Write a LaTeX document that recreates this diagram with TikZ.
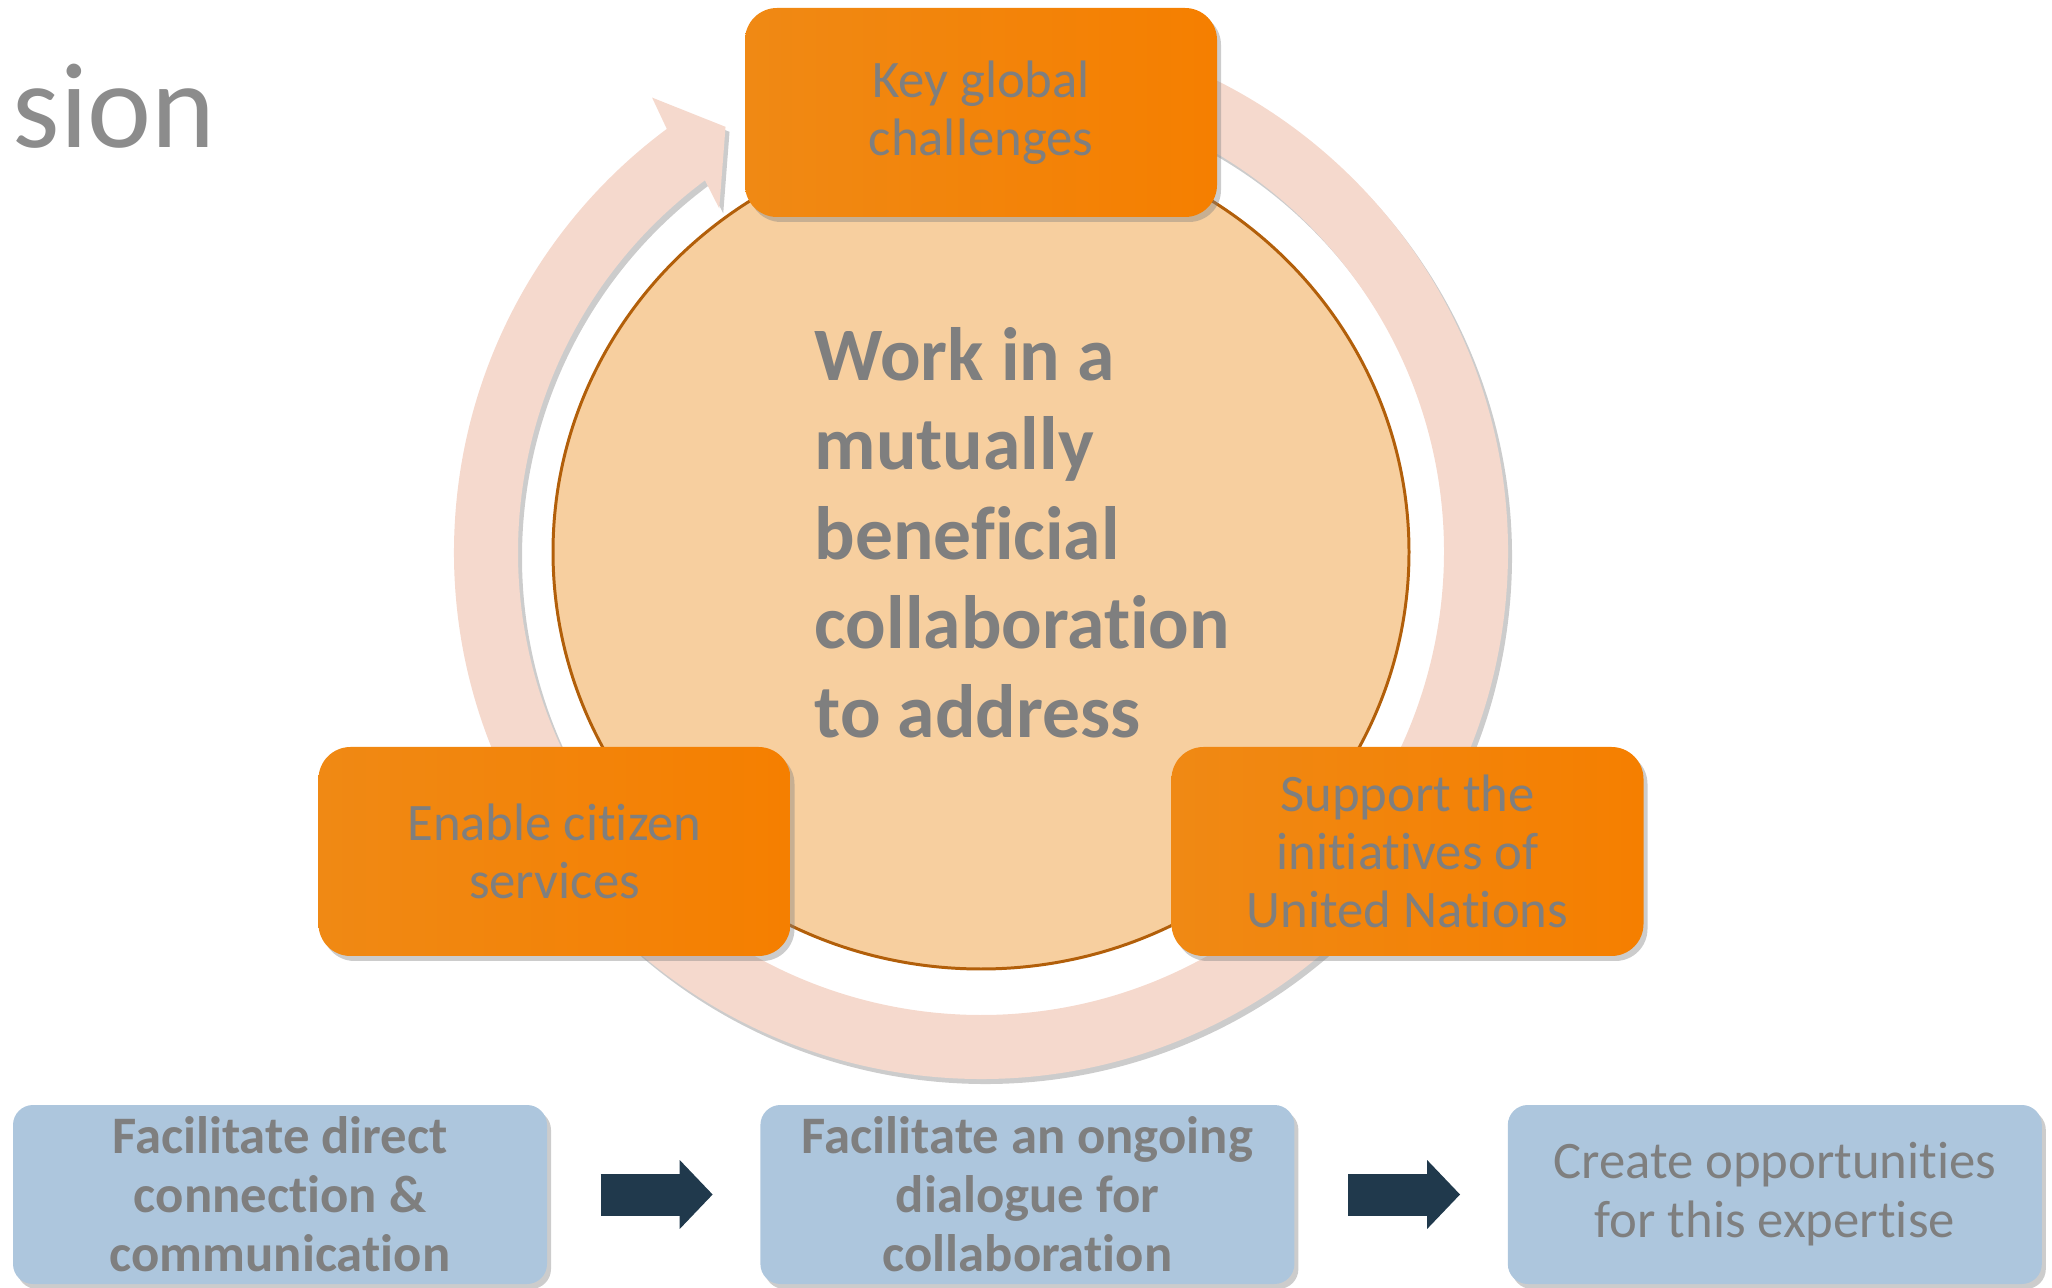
\documentclass[tikz,border=0pt]{standalone}
\usepackage{fontspec}
\setmainfont{Carlito}[Ligatures=NoCommon]
\usetikzlibrary{positioning,shapes.geometric,shadows,arrows.meta}
\definecolor{txtgray}{RGB}{127,127,127}
\definecolor{orangeL}{RGB}{240,137,20}
\definecolor{orangeR}{RGB}{245,127,0}
\definecolor{ringpink}{RGB}{245,217,205}
\definecolor{corefill}{RGB}{247,207,159}
\definecolor{coreline}{RGB}{178,95,10}
\definecolor{paleblue}{RGB}{173,198,221}
\definecolor{navy}{RGB}{32,57,76}

\begin{document}
\begin{tikzpicture}[
	softshadow/.style={drop shadow={shadow xshift=0.04cm,shadow yshift=-0.05cm,opacity=0.4}},
	orangebox/.style={rectangle,rounded corners=0.32cm,minimum width=4.72cm,minimum height=2.09cm,inner sep=0pt,
		left color=orangeL,right color=orangeR,softshadow,text=txtgray,align=center,font=\fontsize{15pt}{16.5pt}\selectfont},
	bluebox/.style={rectangle,rounded corners=0.2cm,minimum width=5.34cm,minimum height=1.79cm,inner sep=0pt,
		fill=paleblue,softshadow,text=txtgray,align=center,font=\fontsize{15pt}{16.8pt}\selectfont},
	boldblue/.style={bluebox,font=\bfseries\fontsize{15pt}{16.8pt}\selectfont},
	flowarrow/.style={draw=navy,line width=0.42cm,-{Triangle[length=0.33cm,width=0.67cm]},shorten <=0.53cm,shorten >=0.47cm}
]
\useasboundingbox (0,0) rectangle (20.52,12.87);
\coordinate (c) at (9.81,7.35);
\node[anchor=base west,inner sep=0pt,text=txtgray!90,font=\fontsize{34.5pt}{40pt}\selectfont] (title) at (0.12,11.39) {sion};

\fill[ringpink,softshadow] ([shift={(85:5.27)}]c) arc[start angle=85,end angle=-233.4,radius=5.27]
	-- ([shift={(125.9:5.61)}]c) -- ([shift={(121:4.96)}]c) -- ([shift={(127.3:4.32)}]c)
	-- ([shift={(126.6:4.63)}]c) arc[start angle=-233.4,end angle=85,radius=4.63] -- cycle;

\node[ellipse,draw=coreline,line width=0.85pt,fill=corefill,minimum width=8.56cm,minimum height=8.34cm,inner sep=0pt] (core) at (c) {};
\node[anchor=north west,inner sep=0pt,align=left,text=txtgray,font=\bfseries\fontsize{21.5pt}{25.4pt}\selectfont] (aim) at (8.14,9.60)
	{Work in a\\mutually\\beneficial\\collaboration\\to address};

\node[orangebox] (global) at (9.81,11.745) {Key global\\challenges};
\node[orangebox] (citizen) at (5.545,4.355) {Enable citizen\\services};
\node[orangebox] (nations) at (14.075,4.355) {Support the\\initiatives of\\United Nations};

\node[boldblue] (connect) at (2.80,0.925) {Facilitate direct\\connection \&\\communication};
\node[boldblue,right=2.12cm of connect] (dialogue) {Facilitate an ongoing\\dialogue for\\collaboration};
\node[bluebox,right=2.12cm of dialogue] (expertise) {Create opportunities\\for this expertise};
\draw[flowarrow] (connect) -- (dialogue);
\draw[flowarrow] (dialogue) -- (expertise);
\end{tikzpicture}
\end{document}
